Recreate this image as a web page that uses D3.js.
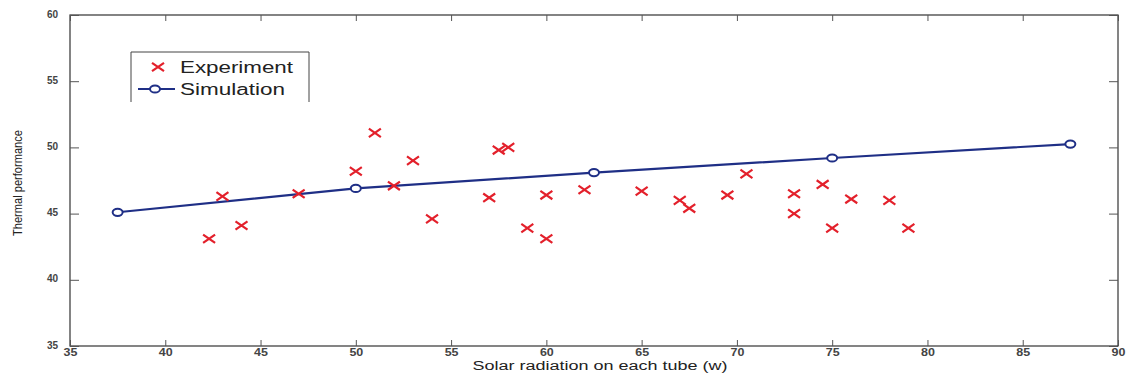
<!DOCTYPE html>
<html><head><meta charset="utf-8">
<script src="https://cdn.jsdelivr.net/npm/d3@7"></script>
<style>body{margin:0;background:#fff}svg{display:block}</style>
</head><body>
<svg id="c" width="1129" height="385"></svg>
<script>
const expX = [42.3, 43, 44, 47, 50, 51, 52, 53, 54, 57, 57.5, 58, 59, 60, 60, 62, 65, 67, 67.5, 69.5, 70.5, 73, 73, 74.5, 75, 76, 78, 79];
const expY = [43.1, 46.3, 44.1, 46.5, 48.2, 51.1, 47.1, 49.0, 44.6, 46.2, 49.8, 50.0, 43.9, 46.4, 43.1, 46.8, 46.7, 46.0, 45.4, 46.4, 48.0, 46.5, 45.0, 47.2, 43.9, 46.1, 46.0, 43.9];
const simX = [37.5, 50, 62.5, 75, 87.5];
const simY = [45.1, 46.9, 48.1, 49.2, 50.25];
const xTicks = [35, 40, 45, 50, 55, 60, 65, 70, 75, 80, 85, 90];
const yTicks = [35, 40, 45, 50, 55, 60];
const seriesNames = ["Experiment", "Simulation"];
const xTitle = "Solar radiation on each tube (w)";
const yTitle = "Thermal performance";

const svg = d3.select("#c");
const L = 70, R = 1118, T = 15, B = 346;
const x = d3.scaleLinear().domain([35, 90]).range([L, R]);
const y = d3.scaleLinear().domain([35, 60]).range([B, T]);
const axisCol = "#333";
const red = "#e3202b", blue = "#1f2f86";

// frame
svg.append("rect").attr("x", L).attr("y", T).attr("width", R - L).attr("height", B - T)
  .attr("fill", "none").attr("stroke", axisCol).attr("stroke-width", 1.2);

// axes
const xb = svg.append("g").attr("transform", `translate(0,${B})`)
  .call(d3.axisBottom(x).tickValues(xTicks).tickSize(-6).tickPadding(3));
const xt = svg.append("g").attr("transform", `translate(0,${T})`)
  .call(d3.axisTop(x).tickValues(xTicks).tickSize(-6).tickFormat(""));
const yl = svg.append("g").attr("transform", `translate(${L},0)`)
  .call(d3.axisLeft(y).tickValues(yTicks).tickSize(-9).tickPadding(12));
const yr = svg.append("g").attr("transform", `translate(${R},0)`)
  .call(d3.axisRight(y).tickValues(yTicks).tickSize(-9).tickFormat(""));
[xb, xt, yl, yr].forEach(g => {
  g.select(".domain").remove();
  g.selectAll(".tick line").attr("stroke", "#555").attr("stroke-width", 1);
  g.selectAll(".tick text").attr("fill", "#444").attr("font-family", "Liberation Sans, Arial, sans-serif")
    .attr("font-size", 10).attr("font-weight", "bold");
});
xb.selectAll(".tick text").attr("transform", "scale(1.25,1)");
yl.selectAll(".tick text").attr("dy", "0.2em");

// titles
svg.append("text").attr("x", 600).attr("y", 370).attr("text-anchor", "middle")
  .attr("font-family", "Liberation Sans, Arial, sans-serif").attr("font-size", 12).attr("fill", "#222")
  .attr("textLength", 255).attr("lengthAdjust", "spacingAndGlyphs").text(xTitle);
svg.append("text").attr("transform", "translate(22,183) rotate(-90)").attr("text-anchor", "middle")
  .attr("font-family", "Liberation Sans Narrow, Liberation Sans, Arial, sans-serif").attr("font-size", 12).attr("fill", "#222")
  .attr("textLength", 106).attr("lengthAdjust", "spacingAndGlyphs").text(yTitle);

// simulation line
const line = d3.line().x(d => x(d[0])).y(d => y(d[1]));
const simData = simX.map((v, i) => [v, simY[i]]);
svg.append("path").datum(simData).attr("d", line).attr("fill", "none")
  .attr("stroke", blue).attr("stroke-width", 2.2);
svg.selectAll(".sim").data(simData).enter().append("ellipse")
  .attr("cx", d => x(d[0])).attr("cy", d => y(d[1])).attr("rx", 5).attr("ry", 3.6)
  .attr("fill", "#fff").attr("stroke", blue).attr("stroke-width", 2);

// experiment crosses
const cross = (cx, cy, w, h) => `M${cx - w},${cy - h}L${cx + w},${cy + h}M${cx - w},${cy + h}L${cx + w},${cy - h}`;
svg.selectAll(".exp").data(expX.map((v, i) => [v, expY[i]])).enter().append("path")
  .attr("d", d => cross(x(d[0]), y(d[1]), 6, 4.2))
  .attr("stroke", red).attr("stroke-width", 2.2).attr("fill", "none");

// legend
const lg = svg.append("g");
lg.append("path").attr("d", "M131,102V52H309V102").attr("fill", "none").attr("stroke", "#444").attr("stroke-width", 1);
lg.append("path").attr("d", cross(158, 67, 6, 4.2)).attr("stroke", red).attr("stroke-width", 2.2);
lg.append("text").attr("x", 180).attr("y", 73).attr("font-family", "Liberation Sans, Arial, sans-serif")
  .attr("font-size", 16).attr("fill", "#222").attr("textLength", 113).attr("lengthAdjust", "spacingAndGlyphs").text(seriesNames[0]);
lg.append("line").attr("x1", 138).attr("x2", 175).attr("y1", 89).attr("y2", 89).attr("stroke", blue).attr("stroke-width", 2.2);
lg.append("ellipse").attr("cx", 155).attr("cy", 89).attr("rx", 5).attr("ry", 3.6).attr("fill", "#fff").attr("stroke", blue).attr("stroke-width", 2);
lg.append("text").attr("x", 180).attr("y", 95).attr("font-family", "Liberation Sans, Arial, sans-serif")
  .attr("font-size", 16).attr("fill", "#222").attr("textLength", 105).attr("lengthAdjust", "spacingAndGlyphs").text(seriesNames[1]);
</script>
</body></html>
